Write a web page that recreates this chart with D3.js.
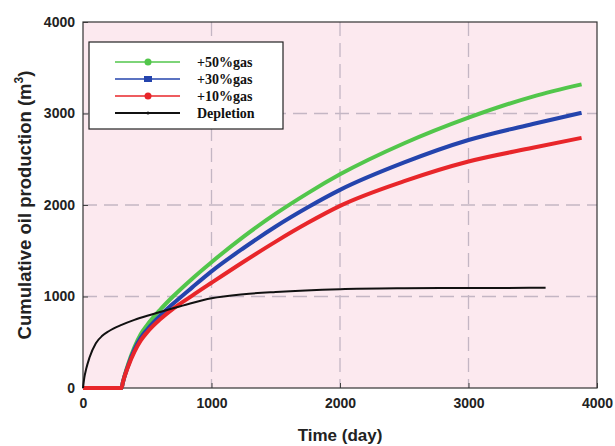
<!DOCTYPE html>
<html>
<head>
<meta charset="utf-8">
<script src="https://cdn.jsdelivr.net/npm/d3@7"></script>
<style>
  body { margin: 0; background: #fff; }
  .tick text { font-family: 'Liberation Sans', Arial, sans-serif; font-weight: bold; font-size: 14px; fill: #222; }
</style>
</head>
<body>
<div id="chart"></div>
<script>
// values: [time (day), cumulative oil (m3)]
const gas50 = [[0, 0], [300, 0], [310, 60], [350, 255], [400, 445], [450, 590], [500, 690], [600, 855], [700, 1000], [850, 1195], [1000, 1375], [1250, 1655], [1500, 1905], [1750, 2130], [2000, 2335], [2500, 2675], [3000, 2955], [3500, 3185], [3880, 3318]]
const gas30 = [[0, 0], [300, 0], [310, 60], [350, 240], [400, 420], [450, 550], [500, 640], [600, 790], [700, 920], [850, 1100], [1000, 1275], [1250, 1530], [1500, 1765], [1750, 1975], [2000, 2165], [2500, 2465], [3000, 2710], [3500, 2885], [3880, 3007]]
const gas10 = [[0, 0], [300, 0], [310, 60], [350, 230], [400, 395], [450, 520], [500, 610], [600, 750], [700, 865], [850, 1010], [1000, 1150], [1250, 1380], [1500, 1600], [1750, 1805], [2000, 1990], [2500, 2260], [3000, 2475], [3500, 2625], [3880, 2734]]
const depletion = [[0, 0], [10, 110], [25, 210], [50, 330], [100, 490], [150, 570], [200, 620], [300, 690], [400, 745], [500, 790], [600, 830], [800, 910], [1000, 980], [1250, 1025], [1500, 1050], [2000, 1080], [2500, 1090], [3000, 1093], [3600, 1095]]

const seriesNames = ['+50%gas', '+30%gas', '+10%gas', 'Depletion']
const xTicks = [0, 1000, 2000, 3000, 4000]
const yTicks = [0, 1000, 2000, 3000, 4000]

const margin = { top: 22, left: 83, right: 18, bottom: 58 }
const width = 615 - margin.left - margin.right
const height = 446 - margin.top - margin.bottom

const svg = d3
  .select('#chart')
  .append('svg')
  .attr('width', 615)
  .attr('height', 446)

const g = svg
  .append('g')
  .attr('transform', 'translate(' + margin.left + ',' + margin.top + ')')

const x = d3.scaleLinear().domain([0, 4000]).range([0, width])
const y = d3.scaleLinear().domain([0, 4000]).range([height, 0])

// pink plot background
g.append('rect')
  .attr('width', width)
  .attr('height', height)
  .attr('fill', '#fce9ef')

// dashed grid
g.selectAll('.vgrid')
  .data(xTicks.slice(1, -1))
  .enter()
  .append('line')
  .attr('x1', d => x(d))
  .attr('x2', d => x(d))
  .attr('y1', 0)
  .attr('y2', height)
  .attr('stroke', '#c4b6c4')
  .attr('stroke-width', 1.3)
  .attr('stroke-dasharray', '14,7')

g.selectAll('.hgrid')
  .data(yTicks.slice(1, -1))
  .enter()
  .append('line')
  .attr('x1', 0)
  .attr('x2', width)
  .attr('y1', d => y(d))
  .attr('y2', d => y(d))
  .attr('stroke', '#c4b6c4')
  .attr('stroke-width', 1.3)
  .attr('stroke-dasharray', '14,7')

// axes
const xAxis = d3.axisBottom(x).tickValues(xTicks).tickFormat(d3.format('d')).tickSizeInner(-5).tickSizeOuter(0).tickPadding(10)
g.append('g')
  .attr('transform', 'translate(0,' + height + ')')
  .call(xAxis)
  .call(s => s.select('.domain').remove())

const yAxis = d3.axisLeft(y).tickValues(yTicks).tickFormat(d3.format('d')).tickSizeInner(-5).tickSizeOuter(0).tickPadding(8)
g.append('g')
  .call(yAxis)
  .call(s => s.select('.domain').remove())

g.selectAll('.tick line').attr('stroke', '#444')

// frame
g.append('rect')
  .attr('width', width)
  .attr('height', height)
  .attr('fill', 'none')
  .attr('stroke', '#333')
  .attr('stroke-width', 1.2)

const line = d3
  .line()
  .x(d => x(d[0]))
  .y(d => y(d[1]))
  .curve(d3.curveMonotoneX)

const series = [
  { data: gas50, color: '#52c64b', w: 4 },
  { data: gas30, color: '#2444ad', w: 4 },
  { data: gas10, color: '#e8262a', w: 4 },
  { data: depletion, color: '#111111', w: 2 }
]

// green at the back, red and black on top, as in the reference
g.selectAll('.curve')
  .data(series)
  .enter()
  .append('path')
  .attr('d', d => line(d.data))
  .attr('fill', 'none')
  .attr('stroke', d => d.color)
  .attr('stroke-width', d => d.w)
  .attr('stroke-linejoin', 'round')

// legend
const legend = svg.append('g').attr('transform', 'translate(89,42)')
legend.append('rect')
  .attr('width', 194)
  .attr('height', 87)
  .attr('fill', '#fff')
  .attr('stroke', '#222')
  .attr('stroke-width', 1.2)

const legendColors = series.map(s => s.color)
const rows = legend.selectAll('.row')
  .data(seriesNames)
  .enter()
  .append('g')
  .attr('transform', (d, i) => 'translate(0,' + (20 + i * 17) + ')')

rows.append('line')
  .attr('x1', 26)
  .attr('x2', 91)
  .attr('stroke', (d, i) => legendColors[i])
  .attr('stroke-width', (d, i) => i === 3 ? 2 : 1.5)

rows.filter((d, i) => i !== 1)
  .append('circle')
  .attr('cx', 59)
  .attr('r', d => d === 'Depletion' ? 1.5 : 3.5)
  .attr('fill', d => legendColors[seriesNames.indexOf(d)])

rows.filter((d, i) => i === 1)
  .append('rect')
  .attr('x', 55)
  .attr('y', -3)
  .attr('width', 8)
  .attr('height', 6)
  .attr('fill', legendColors[1])

rows.append('text')
  .attr('x', 108)
  .attr('dy', '0.35em')
  .attr('font-family', "'Liberation Serif', 'Times New Roman', serif")
  .attr('font-weight', 'bold')
  .attr('font-size', 14)
  .attr('fill', '#111')
  .text(d => d)

// axis titles
svg.append('text')
  .attr('x', margin.left + width / 2)
  .attr('y', 441)
  .attr('text-anchor', 'middle')
  .attr('font-family', "'Liberation Sans', Arial, sans-serif")
  .attr('font-weight', 'bold')
  .attr('font-size', 17)
  .attr('fill', '#222')
  .text('Time (day)')

const yTitle = svg.append('text')
  .attr('transform', 'translate(31,' + (margin.top + height / 2) + ') rotate(-90)')
  .attr('text-anchor', 'middle')
  .attr('font-family', "'Liberation Sans', Arial, sans-serif")
  .attr('font-weight', 'bold')
  .attr('font-size', 18.5)
  .attr('fill', '#222')
yTitle.append('tspan').text('Cumulative oil production (m')
yTitle.append('tspan').attr('dy', -8).attr('font-size', 12).text('3')
yTitle.append('tspan').attr('dy', 8).text(')')
</script>
</body>
</html>
